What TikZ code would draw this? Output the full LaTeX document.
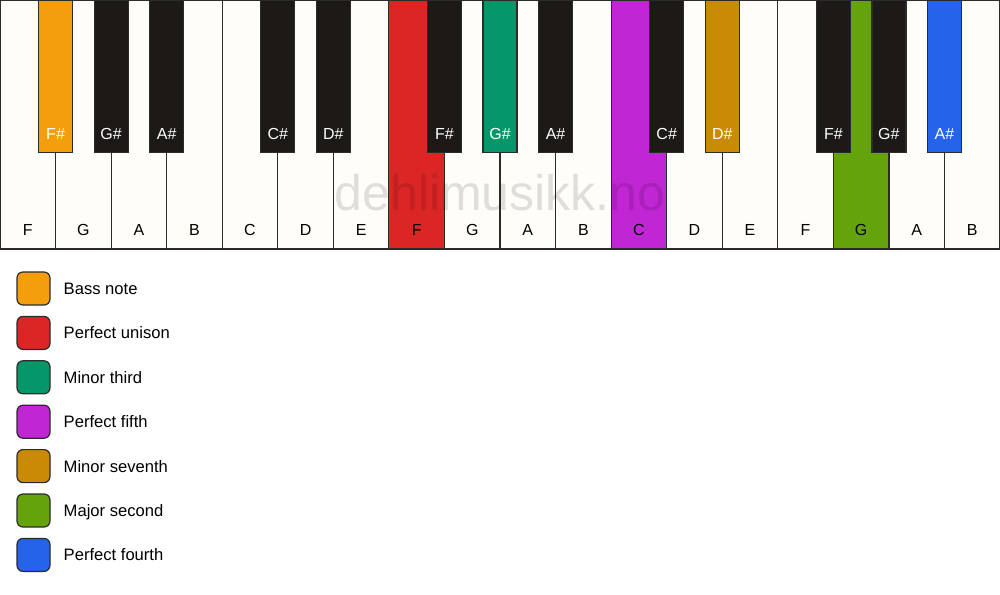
\documentclass[tikz,border=0pt]{standalone}
\usepackage{fontspec}
\setmainfont{Liberation Sans}
\usetikzlibrary{positioning}

\definecolor{keywhite}{HTML}{FFFDF8}
\definecolor{keyblack}{HTML}{1C1917}
\definecolor{keyline}{HTML}{2B2B2B}
\definecolor{bassnote}{HTML}{F59E0B}
\definecolor{unison}{HTML}{DC2626}
\definecolor{minthird}{HTML}{059669}
\definecolor{pfifth}{HTML}{C026D3}
\definecolor{minseventh}{HTML}{CA8A04}
\definecolor{majsecond}{HTML}{65A30D}
\definecolor{pfourth}{HTML}{2563EB}

\begin{document}
\begin{tikzpicture}[x=1pt, y=-1pt]
        \tikzstyle{white key}=[rectangle, draw=keyline, line width=1.2pt, fill=keywhite, anchor=north west, inner sep=0pt, outer sep=0pt, minimum width=55.56pt, text height=235pt, text depth=14pt, font=\fontsize{16}{19}\selectfont]
        \tikzstyle{black key}=[rectangle, draw=keyline, line width=1.2pt, fill=keyblack, text=white, anchor=north, inner sep=0pt, outer sep=0pt, minimum width=34pt, text height=139pt, text depth=13.7pt, font=\fontsize{16}{19}\selectfont]
        \tikzstyle{legend box}=[rectangle, draw=keyline, line width=1.2pt, rounded corners=6pt, minimum size=33pt, inner sep=0pt, outer sep=0pt]
        \tikzstyle{legend text}=[inner sep=0pt, anchor=west, text height=11.8pt, text depth=0pt, font=\fontsize{16.6}{20}\selectfont]
        \tikzstyle{watermark}=[inner sep=0pt, anchor=base, text=black, text opacity=0.12, font=\fontsize{50}{60}\selectfont]

        \useasboundingbox (0,0) rectangle (1000,594);

        % white keys
        \node[white key] (w1)  at (0,0)      {F};
        \node[white key] (w2)  at (55.56,0)  {G};
        \node[white key] (w3)  at (111.11,0) {A};
        \node[white key] (w4)  at (166.67,0) {B};
        \node[white key] (w5)  at (222.22,0) {C};
        \node[white key] (w6)  at (277.78,0) {D};
        \node[white key] (w7)  at (333.33,0) {E};
        \node[white key, fill=unison] (w8)  at (388.89,0) {F};
        \node[white key] (w9)  at (444.44,0) {G};
        \node[white key] (w10) at (500,0)    {A};
        \node[white key] (w11) at (555.56,0) {B};
        \node[white key, fill=pfifth] (w12) at (611.11,0) {C};
        \node[white key] (w13) at (666.67,0) {D};
        \node[white key] (w14) at (722.22,0) {E};
        \node[white key] (w15) at (777.78,0) {F};
        \node[white key, fill=majsecond] (w16) at (833.33,0) {G};
        \node[white key] (w17) at (888.89,0) {A};
        \node[white key] (w18) at (944.44,0) {B};

        % black keys
        \node[black key, fill=bassnote] (b1)  at (55.56,0)  {F\#};
        \node[black key] (b2)  at (111.11,0) {G\#};
        \node[black key] (b3)  at (166.67,0) {A\#};
        \node[black key] (b4)  at (277.78,0) {C\#};
        \node[black key] (b5)  at (333.33,0) {D\#};
        \node[black key] (b6)  at (444.44,0) {F\#};
        \node[black key, fill=minthird] (b7)  at (500,0)    {G\#};
        \node[black key] (b8)  at (555.56,0) {A\#};
        \node[black key] (b9)  at (666.67,0) {C\#};
        \node[black key, fill=minseventh] (b10) at (722.22,0) {D\#};
        \node[black key] (b11) at (833.33,0) {F\#};
        \node[black key] (b12) at (888.89,0) {G\#};
        \node[black key, fill=pfourth] (b13) at (944.44,0) {A\#};

        \node[watermark] (wm) at (500,210) {dehlimusikk.no};

        % legend
        \node[legend box, fill=bassnote]   (l1) at (33.5,288.5) {};
        \node[legend box, fill=unison]     (l2) at (33.5,332.9) {};
        \node[legend box, fill=minthird]   (l3) at (33.5,377.3) {};
        \node[legend box, fill=pfifth]     (l4) at (33.5,421.7) {};
        \node[legend box, fill=minseventh] (l5) at (33.5,466.1) {};
        \node[legend box, fill=majsecond]  (l6) at (33.5,510.5) {};
        \node[legend box, fill=pfourth]    (l7) at (33.5,554.9) {};

        \node[legend text, right=13.5pt of l1] (t1) {Bass note};
        \node[legend text, right=13.5pt of l2] (t2) {Perfect unison};
        \node[legend text, right=13.5pt of l3] (t3) {Minor third};
        \node[legend text, right=13.5pt of l4] (t4) {Perfect fifth};
        \node[legend text, right=13.5pt of l5] (t5) {Minor seventh};
        \node[legend text, right=13.5pt of l6] (t6) {Major second};
        \node[legend text, right=13.5pt of l7] (t7) {Perfect fourth};
    \end{tikzpicture}
\end{document}
